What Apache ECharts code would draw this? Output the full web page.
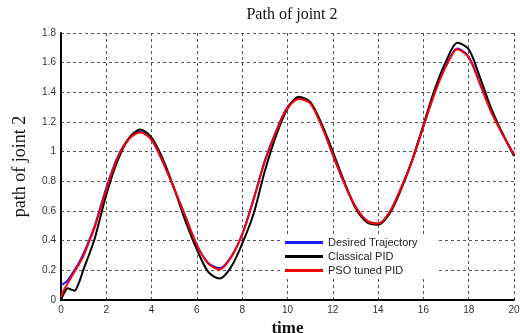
<!DOCTYPE html>
<html>
<head>
<meta charset="utf-8">
<script src="https://cdn.jsdelivr.net/npm/echarts@6/dist/echarts.min.js"></script>
<style>
  html, body { margin: 0; padding: 0; background: #fff; }
  #chart { width: 520px; height: 333px; }
</style>
</head>
<body>
<div id="chart"></div>
<script>
  // values
  const desiredT = [0, 0.25, 0.5, 0.75, 1, 1.25, 1.5, 2, 2.5, 3, 3.5, 4, 4.5, 5, 5.5, 6, 6.5, 7, 7.5, 8, 8.5, 9, 9.5, 10, 10.5, 11, 11.5, 12, 12.5, 13, 13.5, 14, 14.5, 15, 15.5, 16, 16.5, 17, 17.5, 18, 18.5, 19, 19.5, 20];
  const desiredV = [0.10, 0.125, 0.18, 0.24, 0.315, 0.405, 0.505, 0.757, 0.965, 1.09, 1.135, 1.08, 0.93, 0.75, 0.56, 0.37, 0.25, 0.215, 0.29, 0.445, 0.68, 0.94, 1.14, 1.30, 1.36, 1.33, 1.18, 0.98, 0.79, 0.63, 0.535, 0.515, 0.59, 0.75, 0.94, 1.17, 1.40, 1.58, 1.695, 1.64, 1.46, 1.27, 1.12, 0.98];

  const classicT = [0, 0.15, 0.3, 0.45, 0.6, 0.8, 1, 1.25, 1.5, 2, 2.5, 3, 3.5, 4, 4.5, 5, 5.5, 6, 6.5, 7, 7.5, 8, 8.5, 9, 9.5, 10, 10.5, 11, 11.5, 12, 12.5, 13, 13.5, 14, 14.5, 15, 15.5, 16, 16.5, 17, 17.5, 18, 18.5, 19, 19.5, 20];
  const classicV = [0.0, 0.05, 0.08, 0.07, 0.063, 0.12, 0.21, 0.31, 0.42, 0.71, 0.94, 1.09, 1.15, 1.095, 0.95, 0.75, 0.53, 0.34, 0.19, 0.145, 0.22, 0.38, 0.58, 0.87, 1.11, 1.29, 1.37, 1.335, 1.19, 1.00, 0.80, 0.62, 0.525, 0.508, 0.58, 0.74, 0.94, 1.18, 1.42, 1.61, 1.735, 1.69, 1.50, 1.29, 1.12, 0.97];

  const psoT = [0, 0.1, 0.25, 0.5, 0.75, 1, 1.25, 1.5, 2, 2.5, 3, 3.5, 4, 4.5, 5, 5.5, 6, 6.5, 7, 7.5, 8, 8.5, 9, 9.5, 10, 10.5, 11, 11.5, 12, 12.5, 13, 13.5, 14, 14.5, 15, 15.5, 16, 16.5, 17, 17.5, 18, 18.5, 19, 19.5, 20];
  const psoV = [0.02, 0.06, 0.10, 0.165, 0.23, 0.30, 0.395, 0.495, 0.745, 0.96, 1.085, 1.13, 1.08, 0.93, 0.75, 0.56, 0.37, 0.245, 0.205, 0.285, 0.44, 0.675, 0.935, 1.135, 1.295, 1.355, 1.325, 1.175, 0.98, 0.79, 0.63, 0.535, 0.515, 0.59, 0.75, 0.94, 1.17, 1.395, 1.575, 1.69, 1.635, 1.455, 1.265, 1.115, 0.98];

  const names = ['Desired Trajectory', 'Classical PID', 'PSO tuned PID'];
  const colors = ['#1a1aff', '#000000', '#ff0000'];

  function pairs(t, v) {
    const out = [];
    for (var i = 0; i < t.length; i++) {
      out.push([t[i], v[i]]);
    }
    return out;
  }

  const gridLine = {
    show: true,
    lineStyle: { color: '#555', type: [3, 3], width: 1 }
  };

  let myChart = echarts.init(document.getElementById('chart'));
  myChart.setOption({
    animation: false,
    title: {
      text: 'Path of joint 2',
      left: 287,
      textAlign: 'center',
      top: 2,
      textStyle: { fontFamily: 'Liberation Serif', fontSize: 16, fontWeight: 'normal', color: '#111' }
    },
    legend: {
      orient: 'vertical',
      left: 282,
      top: 234,
      backgroundColor: '#fff',
      padding: [3, 20, 3, 3],
      itemWidth: 38,
      itemHeight: 3,
      itemGap: 3,
      icon: 'rect',
      textStyle: { fontFamily: 'Liberation Sans', fontSize: 11, color: '#222' },
      data: names
    },
    grid: {
      left: 61,
      right: 6,
      top: 33,
      bottom: 33,
      outerBoundsMode: 'none'
    },
    xAxis: {
      type: 'value',
      min: 0,
      max: 20,
      interval: 2,
      name: 'time',
      nameLocation: 'middle',
      nameGap: 15,
      nameTextStyle: { fontFamily: 'Liberation Serif', fontSize: 17, fontWeight: 'bold', color: '#111' },
      axisLine: { show: true, onZero: false, lineStyle: { color: '#000', width: 2 } },
      axisTick: { show: false },
      axisLabel: { fontFamily: 'Liberation Sans', fontSize: 10, color: '#333', margin: 5 },
      splitLine: gridLine
    },
    yAxis: {
      type: 'value',
      min: 0,
      max: 1.8,
      interval: 0.2,
      name: 'path of joint 2',
      nameLocation: 'middle',
      nameGap: 32,
      nameTextStyle: { fontFamily: 'Liberation Serif', fontSize: 18, color: '#111' },
      axisLine: { show: true, lineStyle: { color: '#000', width: 2 } },
      axisTick: { show: false },
      axisLabel: { fontFamily: 'Liberation Sans', fontSize: 10, color: '#333', margin: 5 },
      splitLine: gridLine
    },
    series: [
      { name: names[0], type: 'line', data: pairs(desiredT, desiredV), color: colors[0], smooth: 0.3, showSymbol: false, lineStyle: { width: 2 } },
      { name: names[1], type: 'line', data: pairs(classicT, classicV), color: colors[1], smooth: 0.3, showSymbol: false, lineStyle: { width: 2 } },
      { name: names[2], type: 'line', data: pairs(psoT, psoV), color: colors[2], smooth: 0.3, showSymbol: false, lineStyle: { width: 2 } }
    ]
  });
</script>
</body>
</html>
